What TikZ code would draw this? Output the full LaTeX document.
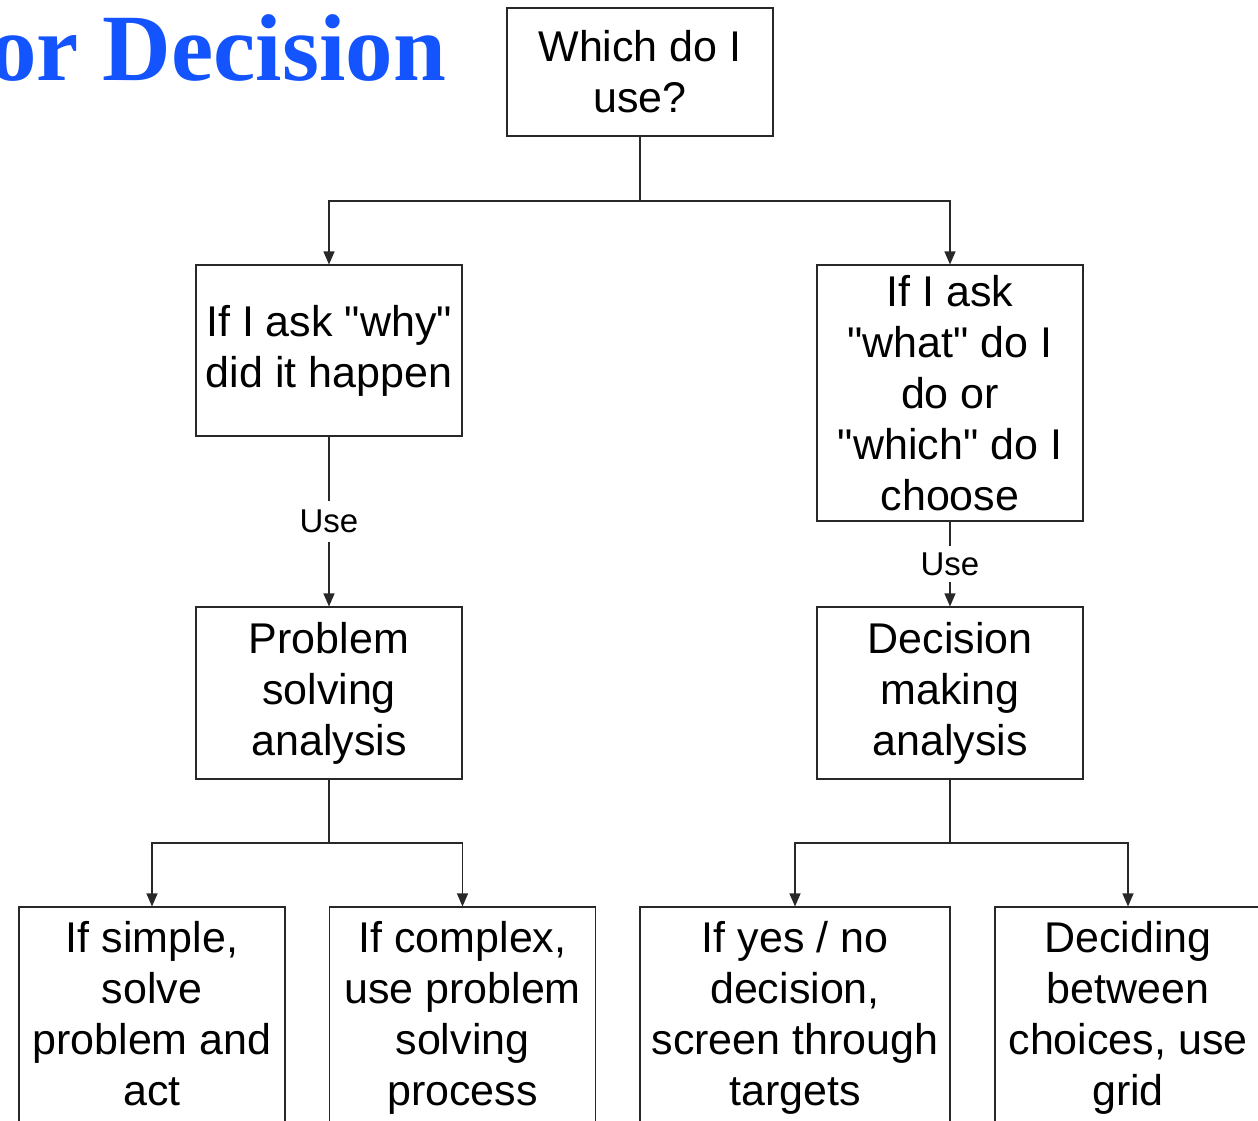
\documentclass[tikz,border=0pt]{standalone}
\usepackage{fontspec}
\setmainfont{Liberation Sans}[Ligatures=TeXOff]
\newfontfamily\titlefont{Liberation Serif}
\usetikzlibrary{arrows.meta}
\definecolor{titleblue}{RGB}{20,84,255}
\definecolor{linegray}{RGB}{40,40,40}
\tikzset{
  box/.style={draw=linegray, line width=1.1pt, rectangle, inner sep=0pt, align=center,
    font=\fontsize{43}{51}\selectfont, minimum width=266pt},
  arr/.style={draw=linegray, line width=1.1pt, -{Triangle[length=13pt,width=11pt]}},
  ln/.style={draw=linegray, line width=1.1pt},
  uselbl/.style={fill=white, inner sep=9pt, font=\fontsize{33}{38}\selectfont}
}
\begin{document}
\begin{tikzpicture}[x=1pt,y=-1pt]
\useasboundingbox (0,0) rectangle (1258,1120);
\clip (0,0) rectangle (1258,1120);
\node[anchor=base east, inner sep=0pt, text=titleblue, font=\titlefont\bfseries\fontsize{95}{100}\selectfont] (title) at (446,80) {or Decision};
\node[box, minimum height=128pt] (top) at (640,72) {Which do I\\use?};
\node[box, minimum height=171pt] (why) at (329,350.5) {If I ask "why"\\did it happen};
\node[box, minimum height=256pt] (what) at (950,393) {If I ask\\"what" do I\\do or\\"which" do I\\choose};
\node[box, minimum height=172pt] (ps) at (329,693) {Problem\\solving\\analysis};
\node[box, minimum height=172pt] (dm) at (950,693) {Decision\\making\\analysis};
\node[box, minimum height=222pt] (b1) at (152,1018) {If simple,\\solve\\problem and\\act\vphantom{gp}};
\node[box, minimum height=222pt] (b2) at (462.5,1018) {If complex,\\use problem\\solving\\process};
\node[box, minimum height=222pt, minimum width=310pt] (b3) at (795,1018) {If yes / no\\decision,\\screen through\\targets};
\node[box, minimum height=222pt] (b4) at (1128,1018) {Deciding\\between\\choices, use\\grid};
\coordinate (j1) at (640,201);
\coordinate (j2) at (329,843);
\coordinate (j3) at (950,843);
\draw[ln] (top.south) -- (j1);
\draw[arr] (j1) -| (why.north);
\draw[arr] (j1) -| (what.north);
\draw[arr] (why.south) -- node[uselbl] {Use} (ps.north);
\draw[arr] (what.south) -- node[uselbl, inner sep=6pt] {Use} (dm.north);
\draw[ln] (ps.south) -- (j2);
\draw[arr] (j2) -| (b1.north);
\draw[arr] (j2) -| (b2.north);
\draw[ln] (dm.south) -- (j3);
\draw[arr] (j3) -| (b3.north);
\draw[arr] (j3) -| (b4.north);
\end{tikzpicture}
\end{document}
